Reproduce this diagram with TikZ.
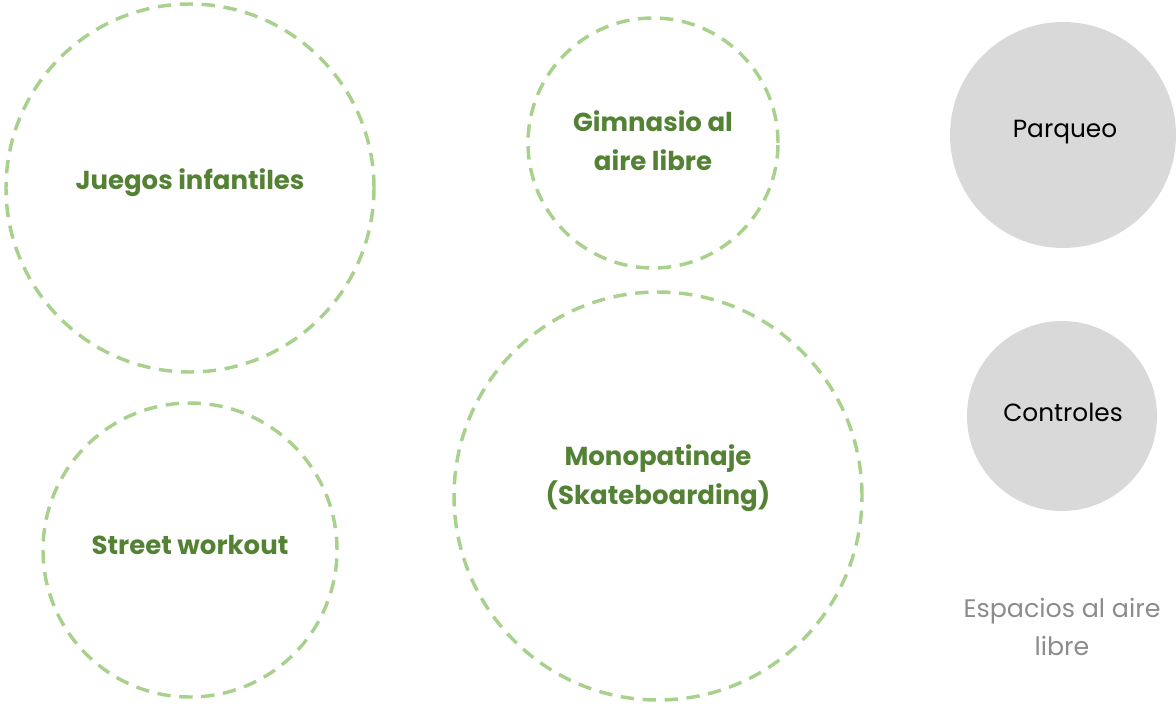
\documentclass[tikz,border=0pt]{standalone}
\usepackage{fontspec}
\setmainfont{Poppins}
\usepackage{xcolor}
\usetikzlibrary{positioning}
\definecolor{leafgreen}{HTML}{548235}
\definecolor{dashgreen}{HTML}{A9D18E}
\definecolor{softgray}{HTML}{D9D9D9}
\definecolor{labelgray}{HTML}{8C8C8C}

\begin{document}
\begin{tikzpicture}[
  x=0.75pt, y=-0.75pt,
  zone/.style={circle, draw=dashgreen, line width=2.6pt,
               dash pattern=on 10pt off 6.5pt, inner sep=0pt},
  zonetext/.style={font=\fontsize{19.5}{29}\selectfont\bfseries, text=leafgreen, align=center},
  extra/.style={circle, fill=softgray, inner sep=0pt,
                font=\fontsize{18.6}{24}\selectfont, text=black, align=center},
]
  \useasboundingbox (0,0) rectangle (1176,707);
  % dashed zones
  \node[zone, minimum size=368*0.75pt] (juegos) at (190,188) {};
  \node[zone, minimum size=250*0.75pt] (gimnasio) at (653,143) {};
  \node[zone, minimum size=294*0.75pt] (street) at (190,550) {};
  \node[zone, minimum size=408*0.75pt] (skate) at (658,496) {};
  \node[zonetext] (juegostxt) at (190,183) {Juegos infantiles};
  \node[zonetext] (gimnasiotxt) at (653,141) {Gimnasio al\\aire libre};
  \node[zonetext] (streettxt) at (190,545) {Street workout};
  \node[zonetext] (skatetxt) at (658,478) {Monopatinaje\\(Skateboarding)};
  % gray circles
  \node[extra, minimum size=226*0.75pt] (parqueo) at (1063,135) {};
  \node[extra, minimum size=190*0.75pt] (controles) at (1062,416) {};
  \node[font=\fontsize{18.6}{24}\selectfont] (parqueotxt) at (1065,132) {Parqueo};
  \node[font=\fontsize{18.6}{24}\selectfont] (controlestxt) at (1063,412) {Controles};
  \node[font=\fontsize{19}{28.5}\selectfont, text=labelgray, align=center] (leyenda) at (1062,627) {Espacios al aire\\libre};
\end{tikzpicture}
\end{document}
